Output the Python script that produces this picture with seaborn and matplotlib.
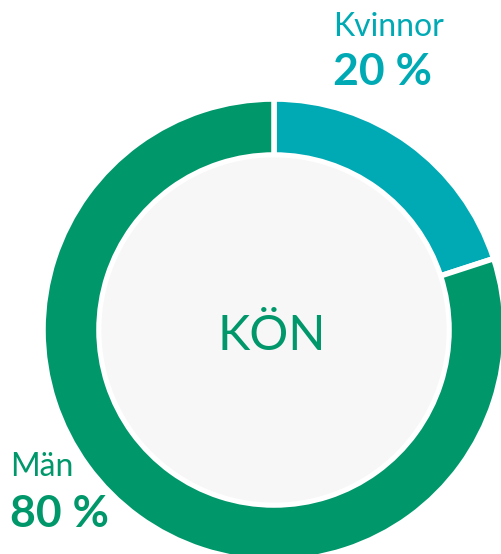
import matplotlib
matplotlib.use("Agg")
import matplotlib.pyplot as plt
import seaborn as sns

labels = ["Kvinnor", "Män"]
values = [20, 80]
pct_labels = ["20 %", "80 %"]
colors = ["#00aab5", "#00976b"]
center_title = "KÖN"

sns.set_style("white")
plt.rcParams["font.family"] = ["Lato", "DejaVu Sans"]

W, H = 501, 554
fig = plt.figure(figsize=(W / 100, H / 100), dpi=100)
ax = fig.add_axes([0, 0, 1, 1])

cx, cy = 274, H - 330
R, ring = 231, 56
ax.pie(values, colors=colors, startangle=90, counterclock=False,
       center=(cx, cy), radius=R, frame=True,
       wedgeprops=dict(width=ring, edgecolor="white", linewidth=4))
ax.add_patch(plt.Circle((cx, cy), R - ring - 1, facecolor="#f7f7f7",
                        edgecolor="white", linewidth=2, zorder=5))
ax.set_xlim(0, W)
ax.set_ylim(0, H)
ax.set_aspect("equal")
ax.axis("off")

ax.text(cx - 2, H - 336, center_title, ha="center", va="center", fontsize=35,
        color=colors[1], fontweight="normal", zorder=6)

ax.text(333, H - 36, labels[0], ha="left", va="baseline", fontsize=23,
        color=colors[0])
ax.text(333, H - 85, pct_labels[0], ha="left", va="baseline", fontsize=32,
        color=colors[0], fontweight="bold")
ax.text(10, H - 476, labels[1], ha="left", va="baseline", fontsize=23,
        color=colors[1])
ax.text(10, H - 527, pct_labels[1], ha="left", va="baseline", fontsize=32,
        color=colors[1], fontweight="bold")

fig.savefig("out.png", dpi=100, facecolor="white")
